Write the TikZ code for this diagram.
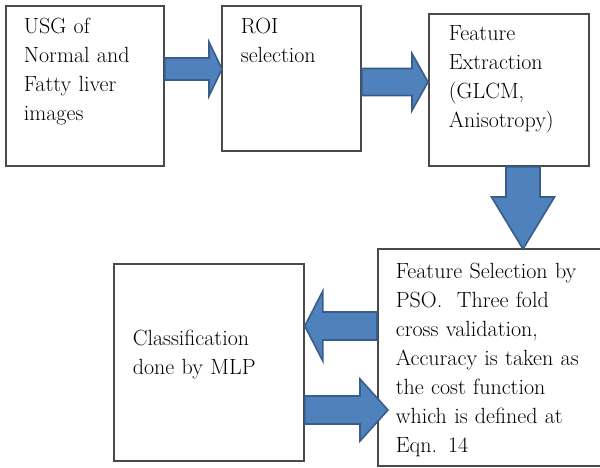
\documentclass[tikz,border=0pt]{standalone}
\usepackage{tikz}
\usetikzlibrary{calc}
\definecolor{arrowblue}{HTML}{4F81BD}
\definecolor{arrowedge}{HTML}{385D8A}
\definecolor{boxgray}{HTML}{4A4A4A}
\tikzset{
  % Process boxes, text set at top left
  stepbox/.style={
    draw=boxgray, line width=1.8pt, anchor=north west,
    align=left, inner ysep=0pt, text=black,
    font=\fontsize{22}{29}\selectfont,
  },
  % Block arrows between the boxes
  fatarr/.style={fill=arrowblue, draw=arrowedge, line width=1.6pt, line join=miter},
}
% block arrow: start, tip, shaft half width, head half width, head length
\newcommand{\fatarrow}[5]{%
  \draw[fatarr] let \p1=#1, \p2=#2,
    \n1={atan2(\y2-\y1,\x2-\x1)}, \n2={veclen(\x2-\x1,\y2-\y1)-#5pt} in
    ($(\p1)+(\n1+90:#3pt)$) -- ($(\p1)+(\n1:\n2)+(\n1+90:#3pt)$)
    -- ($(\p1)+(\n1:\n2)+(\n1+90:#4pt)$) -- (\p2)
    -- ($(\p1)+(\n1:\n2)+(\n1-90:#4pt)$) -- ($(\p1)+(\n1:\n2)+(\n1-90:#3pt)$)
    -- ($(\p1)+(\n1-90:#3pt)$) -- cycle;}

\begin{document}
\begin{tikzpicture}[x=1pt, y=-1pt]
    \useasboundingbox[fill=white] (0,0) rectangle (600,467);
    \node[stepbox, inner xsep=18pt, text width=122pt, text height=28pt, text depth=132pt] (usg)
      at (5,5) {USG of\\Normal and\\Fatty liver\\images};
    \node[stepbox, inner xsep=19pt, text width=101pt, text height=28pt, text depth=117pt] (roi)
      at (221,5) {ROI\\selection};
    \node[stepbox, inner xsep=20pt, text width=120pt, text height=27pt, text depth=125pt] (fe)
      at (428,13) {Feature\\Extraction\\(GLCM,\\Anisotropy)};
    \node[stepbox, inner xsep=18pt, text width=194pt, text height=30pt, text depth=187pt] (fs)
      at (377,248) {Feature Selection by\\PSO.\ \ Three fold\\cross validation,\\Accuracy is taken as\\the cost function\\which is defined at\\Eqn. 14};
    \node[stepbox, inner xsep=19pt, text width=152pt, text height=82pt, text depth=115pt] (cls)
      at (113,263) {Classification\\done by MLP};
    \fatarrow{(usg.east |- 0,69)}{($(roi.west |- 0,69)+(1,0)$)}{11}{27}{13}
    \fatarrow{(roi.east |- 0,82)}{(fe.west |- 0,82)}{13.5}{28.5}{16}
    \fatarrow{(fe.south -| 523,0)}{($(fs.north -| 523,0)+(0,1)$)}{17}{31.5}{52}
    \fatarrow{(fs.west |- 0,326)}{(cls.east |- 0,326)}{14}{35}{18}
    \fatarrow{(cls.east |- 0,410)}{($(fs.west |- 0,410)+(11,0)$)}{14}{31}{28}
\end{tikzpicture}
\end{document}
